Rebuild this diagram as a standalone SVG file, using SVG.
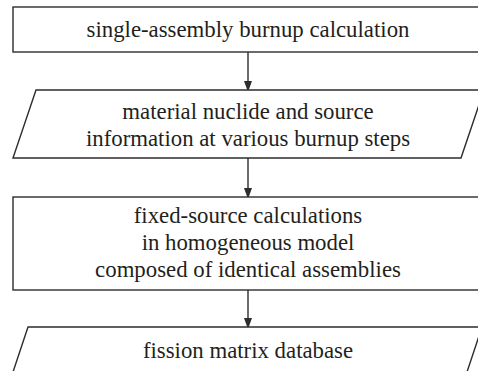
<svg xmlns="http://www.w3.org/2000/svg" width="478" height="371" viewBox="0 0 478 371">
<defs>
<marker id="ah" markerWidth="11" markerHeight="15" refX="11" refY="5.5" orient="auto" markerUnits="userSpaceOnUse" viewBox="0 0 15 11">
<path d="M0,0 L15,5.5 L0,11 Z" fill="#2d2d2d"/>
</marker>
<style>
.box{fill:#fff;stroke:#2d2d2d;stroke-width:1.4}
.t{font-family:'Liberation Serif','Times New Roman',serif;font-size:22.8px;fill:#231f20;text-anchor:middle}
.c{stroke:#2d2d2d;stroke-width:1.4;fill:none}
</style>
</defs>
<rect width="478" height="371" fill="#fff"/>
<g id="connectors">
<line class="c" x1="248" y1="52" x2="248" y2="89" marker-end="url(#ah)"/>
<line class="c" x1="248" y1="158" x2="248" y2="196" marker-end="url(#ah)"/>
<line class="c" x1="248" y1="290" x2="248" y2="326" marker-end="url(#ah)"/>
</g>
<g id="n1">
<rect class="box" x="13" y="7" width="480" height="45"/>
<text class="t" x="248" y="37">single-assembly burnup calculation</text>
</g>
<g id="n2">
<polygon class="box" points="36,90 484,90 461,158 13,158"/>
<text class="t" x="248" y="119">material nuclide and source</text>
<text class="t" x="248" y="146">information at various burnup steps</text>
</g>
<g id="n3">
<rect class="box" x="13" y="197" width="480" height="93"/>
<text class="t" x="248" y="223">fixed-source calculations</text>
<text class="t" x="248" y="250">in homogeneous model</text>
<text class="t" x="248" y="277">composed of identical assemblies</text>
</g>
<g id="n4">
<polygon class="box" points="28,327 482,327 467,372 13,372"/>
<text class="t" x="248" y="358">fission matrix database</text>
</g>
</svg>
